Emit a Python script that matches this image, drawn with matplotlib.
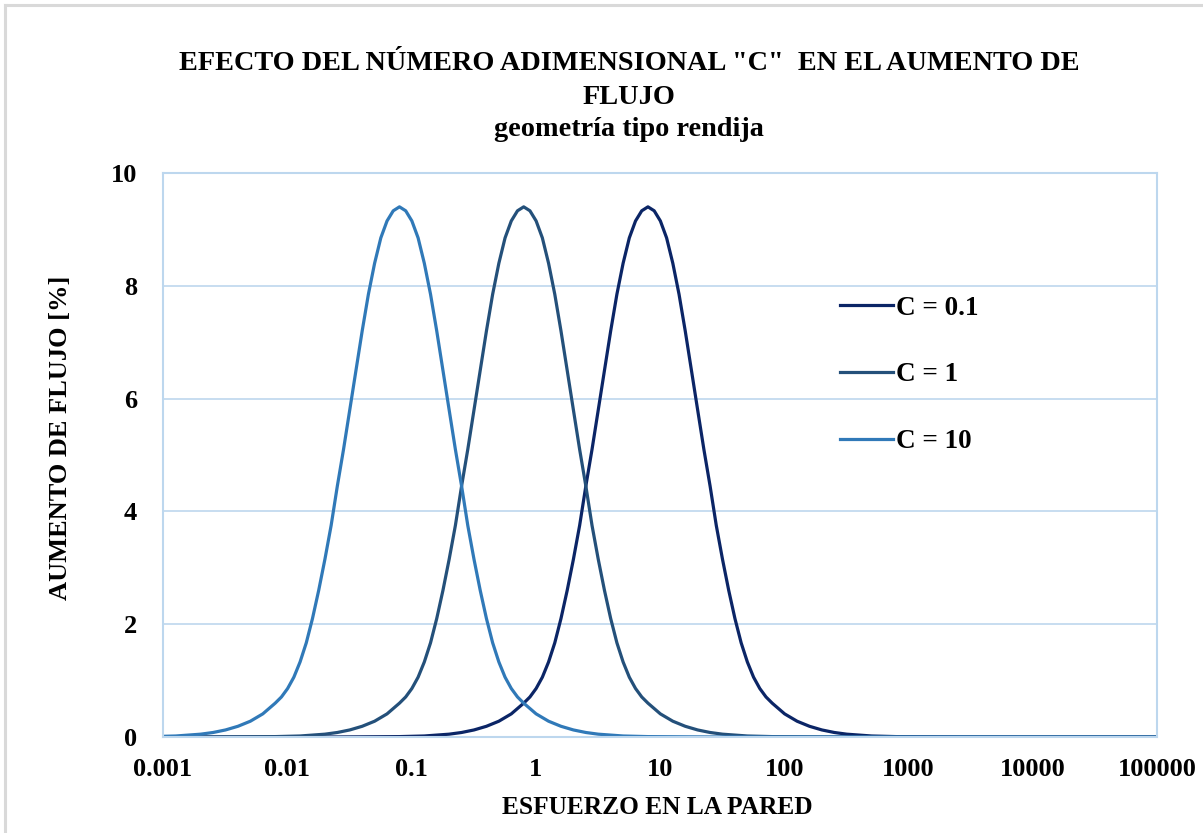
import matplotlib
matplotlib.use("Agg")
import matplotlib.pyplot as plt
from matplotlib.lines import Line2D

# Flow increase [%]; the three curves share the same shape
flow_increase = [
    0, 0, 0.001, 0.007, 0.018, 0.05, 0.08, 0.125, 0.19, 0.28, 0.41, 0.60,
    0.71, 0.86, 1.06, 1.33, 1.67, 2.1, 2.6, 3.15, 3.75, 4.45, 5.1, 5.8, 6.5,
    7.2, 7.85, 8.4, 8.85, 9.15, 9.33,
    9.4,
    9.33, 9.15, 8.85, 8.4, 7.85, 7.2, 6.5, 5.8, 5.1, 4.45, 3.75, 3.15, 2.6,
    2.1, 1.67, 1.33, 1.06, 0.86, 0.71, 0.60,
    0.41, 0.28, 0.19, 0.125, 0.08, 0.05, 0.018, 0.007, 0.001, 0, 0, 0, 0, 0,
]

# Wall stress values for each curve (C = 10 peaks near 0.08, C = 1 near 0.8, C = 0.1 near 8)
stress_c10 = [
    0.000008, 0.00008, 0.000253, 0.0008, 0.001268, 0.002009, 0.00253, 0.003185,
    0.00401, 0.005048, 0.006355, 0.008,
    0.00898, 0.01007, 0.0113, 0.01268, 0.01423, 0.01596, 0.01791, 0.02009, 0.02255,
    0.0253, 0.02838, 0.03185, 0.03573, 0.0401, 0.04499, 0.05048, 0.05664, 0.06355,
    0.0713,
    0.08,
    0.0898, 0.1007, 0.113, 0.1268, 0.1423, 0.1596, 0.1791, 0.2009, 0.2255, 0.253,
    0.2838, 0.3185, 0.3573, 0.401, 0.4499, 0.5048, 0.5664, 0.6355, 0.713, 0.8,
    1.007, 1.268, 1.596, 2.009, 2.53, 3.185, 5.048, 8.0, 25.3, 80, 800, 8000,
    80000, 800000,
]
stress_c1 = [
    0.00008, 0.0008, 0.00253, 0.008, 0.01268, 0.02009, 0.0253, 0.03185,
    0.0401, 0.05048, 0.06355, 0.08,
    0.0898, 0.1007, 0.113, 0.1268, 0.1423, 0.1596, 0.1791, 0.2009, 0.2255,
    0.253, 0.2838, 0.3185, 0.3573, 0.401, 0.4499, 0.5048, 0.5664, 0.6355,
    0.713,
    0.8,
    0.898, 1.007, 1.13, 1.268, 1.423, 1.596, 1.791, 2.009, 2.255, 2.53,
    2.838, 3.185, 3.573, 4.01, 4.499, 5.048, 5.664, 6.355, 7.13, 8.0,
    10.07, 12.68, 15.96, 20.09, 25.3, 31.85, 50.48, 80, 253, 800, 8000, 80000,
    800000, 8000000,
]
stress_c01 = [
    0.0008, 0.008, 0.0253, 0.08, 0.1268, 0.2009, 0.253, 0.3185,
    0.401, 0.5048, 0.6355, 0.8,
    0.898, 1.007, 1.13, 1.268, 1.423, 1.596, 1.791, 2.009, 2.255,
    2.53, 2.838, 3.185, 3.573, 4.01, 4.499, 5.048, 5.664, 6.355,
    7.13,
    8.0,
    8.98, 10.07, 11.3, 12.68, 14.23, 15.96, 17.91, 20.09, 22.55, 25.3,
    28.38, 31.85, 35.73, 40.1, 44.99, 50.48, 56.64, 63.55, 71.3, 80,
    100.7, 126.8, 159.6, 200.9, 253, 318.5, 504.8, 800, 2530, 8000, 80000, 800000,
    8000000, 80000000,
]

labels = ["C = 0.1", "C = 1", "C = 10"]
colors = ["#0b2566", "#24507a", "#3079b8"]

x_ticks = [0.001, 0.01, 0.1, 1, 10, 100, 1000, 10000, 100000]
x_tick_labels = ["0.001", "0.01", "0.1", "1", "10", "100", "1000", "10000", "100000"]
y_ticks = [0, 2, 4, 6, 8, 10]

plt.rcParams["font.family"] = ["Liberation Serif", "DejaVu Serif"]
plt.rcParams["font.weight"] = "bold"

W, H = 1203, 833
fig = plt.figure(figsize=(W / 100, H / 100), dpi=100)

# thin grey frame around the chart (only top and left show in the reference)
fig.add_artist(Line2D([5 / W, 5 / W], [0, 1 - 5 / H],
                      color="#d9d9d9", linewidth=2.2, transform=fig.transFigure))
fig.add_artist(Line2D([5 / W, 1], [1 - 5 / H, 1 - 5 / H],
                      color="#d9d9d9", linewidth=2.2, transform=fig.transFigure))

ax = fig.add_axes([163 / W, 1 - 737 / H, (1157 - 163) / W, (737 - 173) / H])

series = [stress_c01, stress_c1, stress_c10]
for xs, lab, col in zip(series, labels, colors):
    ax.plot(xs, flow_increase, color=col, linewidth=2.3, label=lab)

ax.set_xscale("log")
ax.set_xlim(0.001, 100000)
ax.set_ylim(0, 10)
ax.set_xticks(x_ticks)
ax.set_xticklabels(x_tick_labels)
ax.minorticks_off()
ax.set_yticks(y_ticks)
ax.tick_params(axis="both", length=0, labelsize=19)
ax.tick_params(axis="x", pad=15)
ax.tick_params(axis="y", pad=18.5)
ax.grid(axis="y", color="#bdd7ee", linewidth=1.2)
ax.set_axisbelow(True)
for side in ["top", "right", "left", "bottom"]:
    ax.spines[side].set_color("#bdd7ee")
    ax.spines[side].set_linewidth(1.5)

# axis titles, placed where they sit in the reference
fig.text(657 / W, 1 - 807 / H, "ESFUERZO EN LA PARED", ha="center", va="center",
         fontsize=18.3, fontweight="bold")
fig.text(61 / W, 1 - 438 / H, "AUMENTO DE FLUJO [%]", ha="center", va="center",
         rotation=90, fontsize=19, fontweight="bold")

title_lines = ['EFECTO DEL NÚMERO ADIMENSIONAL "C"  EN EL AUMENTO DE', "FLUJO",
               "geometría tipo rendija"]
for line, ypix in zip(title_lines, [64, 97, 130]):
    fig.text(629 / W, 1 - ypix / H, line, ha="center", va="center",
             fontsize=20.3, fontweight="bold")

ax.legend(loc="upper left", bbox_to_anchor=(0.657, 0.826), frameon=False,
          handlelength=1.95, handletextpad=0.1, labelspacing=1.55,
          prop={"size": 19.5, "weight": "bold"})

fig.savefig("out.png", dpi=100, facecolor="white")
